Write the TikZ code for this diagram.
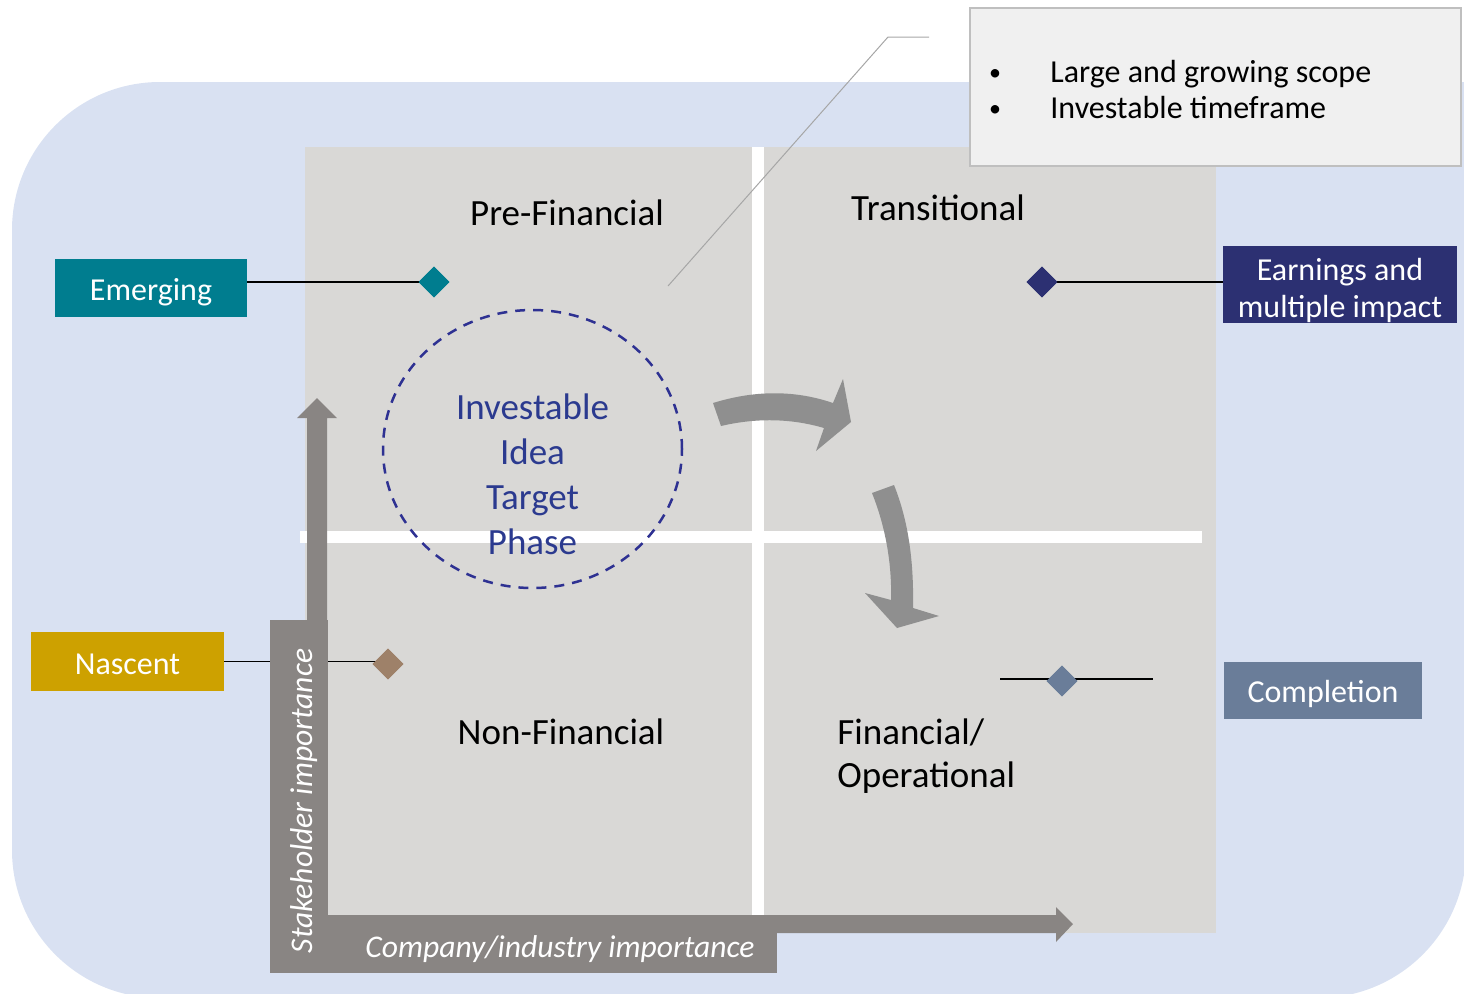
\documentclass[tikz,border=0pt]{standalone}
\usepackage{fontspec}
\setmainfont{Carlito}
\usetikzlibrary{shapes.geometric}
\definecolor{bgblue}{HTML}{D9E1F2}
\definecolor{quadgray}{HTML}{D9D8D6}
\definecolor{axisgray}{HTML}{898583}
\definecolor{arrgray}{HTML}{8F8F8F}
\definecolor{tealc}{HTML}{007D8F}
\definecolor{goldc}{HTML}{CDA100}
\definecolor{navyc}{HTML}{2C3072}
\definecolor{slatec}{HTML}{6A7D99}
\definecolor{brownc}{HTML}{9E8169}
\definecolor{circnavy}{HTML}{2E3192}
\definecolor{circtext}{HTML}{2B3A8F}
\definecolor{calloutfill}{HTML}{F0F0F0}
\definecolor{calloutdraw}{HTML}{BFBFBF}
\definecolor{leadergray}{HTML}{A6A6A6}
\begin{document}
\begin{tikzpicture}[x=0.5pt,y=-0.5pt,
  quadtxt/.style={font=\fontsize{18.5}{21.5}\selectfont, text=black, inner sep=0pt},
  circtxt/.style={font=\fontsize{18.5}{22.5}\selectfont, text=circtext, inner sep=0pt, align=center},
  lbl/.style={font=\fontsize{16}{18.5}\selectfont, text=white, inner sep=0pt, text height=12.5pt, text depth=0pt},
  lblbox/.style={inner sep=0pt},
  axistxt/.style={font=\fontsize{15.8}{18}\selectfont\itshape, text=white, inner sep=0pt},
  diam/.style={diamond, inner sep=0pt, minimum width=15.5pt, minimum height=15.5pt},
  conn/.style={draw=black, line width=0.6pt},
  bullettxt/.style={font=\fontsize{16}{18.5}\selectfont, text=black, inner sep=0pt}
]
\useasboundingbox (0,0) rectangle (1464,993);
% background
\fill[bgblue, rounded corners=74pt] (12,82) rectangle (1466,998);
\fill[bgblue] (1100,82) rectangle (1466,400);
% quadrant area
\fill[quadgray] (305,147) rectangle (1216,933);
\fill[white] (752,147) rectangle (764,915);
\fill[white] (300,531) rectangle (1202,543);
% axis arrows
\fill[axisgray] (307,933) -- (307,418) -- (297,418) -- (317,398) -- (337,418) -- (327,418)
  -- (327,915) -- (1056,915) -- (1056,907) -- (1073,924) -- (1056,942) -- (1056,933) -- cycle;
% curved arrows
\fill[arrgray] (713,403) .. controls (755,390) and (795,390) .. (833,403) -- (843,379) -- (851,422)
  -- (816,451) -- (824,428) .. controls (790,418) and (755,418) .. (721,426) -- cycle;
\fill[arrgray] (872,493) .. controls (886,528) and (892,565) .. (891,600) -- (865,593) -- (897,628)
  -- (939,616) -- (913,608) .. controls (914,560) and (908,520) .. (894,485) -- cycle;
% dashed ellipse
\node[ellipse, draw=circnavy, line width=1.25pt, dash pattern=on 5pt off 4pt,
  minimum width=149.5pt, minimum height=139pt, inner sep=0pt] (idea) at (532.5,449) {};
\node[circtxt] (ideatxt) at (532.5,474.5) {Investable\\Idea\\Target\\Phase};
% quadrant labels
\node[quadtxt, anchor=base] (pre) at (567,225) {Pre-Financial};
\node[quadtxt, anchor=base] (trans) at (938,220) {Transitional};
\node[quadtxt, anchor=base] (nonfin) at (561,744) {Non-Financial};
\node[quadtxt, anchor=west, align=left] (finop) at (837,756) {Financial/\\Operational};
% label boxes
\node[lbl, fill=tealc, minimum width=96pt, minimum height=29pt] (emerg) at (151,288) {Emerging};
\node[lbl, fill=goldc, minimum width=96.5pt, minimum height=29.5pt] (nasc) at (127.5,661.5) {Nascent};
\node[lblbox, fill=navyc, minimum width=117pt, minimum height=38.5pt] (earn) at (1340,284.5) {};
\node[font=\fontsize{16}{18.5}\selectfont, text=white, inner sep=0pt, align=center] (earntxt) at (1340,290.5) {Earnings and\\multiple impact};
\node[lbl, fill=slatec, minimum width=99pt, minimum height=28.5pt] (compl) at (1323,690) {Completion};
% connectors
\coordinate (c1) at (1000,679);
\coordinate (c2) at (1153,679);
\node[diam, fill=tealc] (d1) at (434,282) {};
\node[diam, fill=brownc] (d2) at (388,664) {};
\node[diam, fill=navyc] (d3) at (1042,282) {};
\node[diam, fill=slatec] (d4) at (1062,681) {};
\draw[conn] (emerg.east |- d1.center) -- (d1.center);
\draw[conn] (nasc.east) -- (nasc.east -| d2.center);
\draw[conn] (d3.center) -- (earn.west |- d3.center);
\draw[conn] (c1) -- (c2);
% axis label boxes
\node[fill=axisgray, minimum width=29pt, minimum height=176.5pt, inner sep=0pt] (stbox) at (299,796.5) {};
\node[fill=axisgray, minimum width=253.5pt, minimum height=29pt, inner sep=0pt] (cobox) at (523.5,944) {};
\node[axistxt, rotate=90, anchor=base] (sttxt) at (312,801) {Stakeholder importance};
\node[axistxt, anchor=base] (cotxt) at (560,957) {Company/industry importance};
% diamonds on top of lines
\node[diam, fill=tealc] at (d1) {};
\node[diam, fill=brownc] at (d2) {};
\node[diam, fill=navyc] at (d3) {};
\node[diam, fill=slatec] at (d4) {};
% callout
\node[fill=calloutfill, draw=calloutdraw, line width=0.6pt, minimum width=245.5pt, minimum height=79pt, inner sep=0pt] (callout) at (1215.5,87) {};
\node[font=\fontsize{12}{14}\selectfont, inner sep=0pt, anchor=base] (b1) at (995,80) {•};
\node[font=\fontsize{12}{14}\selectfont, inner sep=0pt, anchor=base] (b2) at (995,116) {•};
\node[bullettxt, anchor=base west] (t1) at (1050,82) {Large and growing scope};
\node[bullettxt, anchor=base west] (t2) at (1050,118) {Investable timeframe};
% leader line
\coordinate (l1) at (668,286);
\coordinate (l2) at (888,37);
\coordinate (l3) at (929,37);
\draw[leadergray, line width=0.5pt] (l1) -- (l2) -- (l3);
\end{tikzpicture}
\end{document}
